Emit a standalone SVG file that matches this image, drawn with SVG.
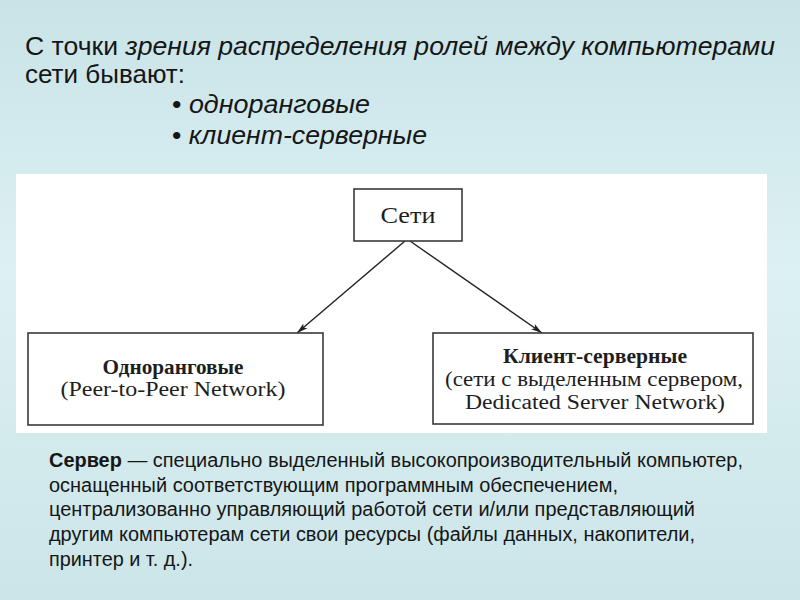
<svg xmlns="http://www.w3.org/2000/svg" width="800" height="600" viewBox="0 0 800 600">
  <defs>
    <linearGradient id="bg" x1="0" y1="0" x2="0" y2="1">
      <stop offset="0" stop-color="#c9e3e7"/>
      <stop offset="0.45" stop-color="#dcf1f4"/>
      <stop offset="1" stop-color="#cce5e8"/>
    </linearGradient>
    <marker id="arr" markerWidth="12" markerHeight="8" refX="11" refY="4" orient="auto" markerUnits="userSpaceOnUse">
      <path d="M0,0.8 L11,4 L0,7.2 L2.5,4 Z" fill="#222"/>
    </marker>
    <style>
      .sans { font-family: "Liberation Sans", Arial, sans-serif; fill: #161616; }
      .serif { font-family: "Liberation Serif", "Times New Roman", serif; fill: #1e1e1e; }
      .box { fill: #ffffff; stroke: #3a3a3a; stroke-width: 1.6; }
      .conn { stroke: #222; stroke-width: 1.4; fill: none; }
    </style>
  </defs>

  <rect x="0" y="0" width="800" height="600" fill="url(#bg)"/>

  <!-- heading text -->
  <g id="heading" class="sans" font-size="25">
    <text x="25" y="55" textLength="750" lengthAdjust="spacingAndGlyphs">С точки <tspan font-style="italic">зрения распределения ролей между компьютерами</tspan></text>
    <text x="25" y="83" textLength="160" lengthAdjust="spacingAndGlyphs">сети бывают:</text>
    <text x="172" y="113" textLength="198" lengthAdjust="spacingAndGlyphs">• <tspan font-style="italic">одноранговые</tspan></text>
    <text x="172" y="144" textLength="255" lengthAdjust="spacingAndGlyphs">• <tspan font-style="italic">клиент-серверные</tspan></text>
  </g>

  <!-- white panel -->
  <rect id="panel" x="16" y="174" width="751" height="259" fill="#ffffff"/>

  <!-- connectors -->
  <g id="connectors">
    <line class="conn" x1="405" y1="241" x2="297" y2="333" marker-end="url(#arr)"/>
    <line class="conn" x1="410" y1="241" x2="542" y2="333" marker-end="url(#arr)"/>
  </g>

  <g id="node-seti">
    <rect class="box" x="354" y="189" width="108" height="52"/>
    <text class="serif" x="408" y="223" font-size="24" text-anchor="middle" textLength="55" lengthAdjust="spacingAndGlyphs">Сети</text>
  </g>

  <g id="node-peer">
    <rect class="box" x="28" y="333" width="295" height="92"/>
    <text class="serif" x="173" y="374" font-size="20" font-weight="bold" text-anchor="middle" textLength="141" lengthAdjust="spacingAndGlyphs">Одноранговые</text>
    <text class="serif" x="173" y="396" font-size="20" text-anchor="middle" textLength="225" lengthAdjust="spacingAndGlyphs">(Peer-to-Peer Network)</text>
  </g>

  <g id="node-client-server">
    <rect class="box" x="433" y="333" width="320" height="91"/>
    <text class="serif" x="595" y="363" font-size="20" font-weight="bold" text-anchor="middle" textLength="184" lengthAdjust="spacingAndGlyphs">Клиент-серверные</text>
    <text class="serif" x="594" y="386" font-size="20" text-anchor="middle" textLength="298" lengthAdjust="spacingAndGlyphs">(сети с выделенным сервером,</text>
    <text class="serif" x="595" y="409" font-size="20" text-anchor="middle" textLength="260" lengthAdjust="spacingAndGlyphs">Dedicated Server Network)</text>
  </g>

  <!-- definition text -->
  <g id="definition" class="sans" font-size="20">
    <text x="49" y="467" textLength="694" lengthAdjust="spacingAndGlyphs"><tspan font-weight="bold">Сервер</tspan> — специально выделенный высокопроизводительный компьютер,</text>
    <text x="49" y="492" textLength="569" lengthAdjust="spacingAndGlyphs">оснащенный соответствующим программным обеспечением,</text>
    <text x="49" y="516" textLength="646" lengthAdjust="spacingAndGlyphs">централизованно управляющий работой сети и/или представляющий</text>
    <text x="49" y="541" textLength="646" lengthAdjust="spacingAndGlyphs">другим компьютерам сети свои ресурсы (файлы данных, накопители,</text>
    <text x="49" y="566" textLength="144" lengthAdjust="spacingAndGlyphs">принтер и т. д.).</text>
  </g>
</svg>
